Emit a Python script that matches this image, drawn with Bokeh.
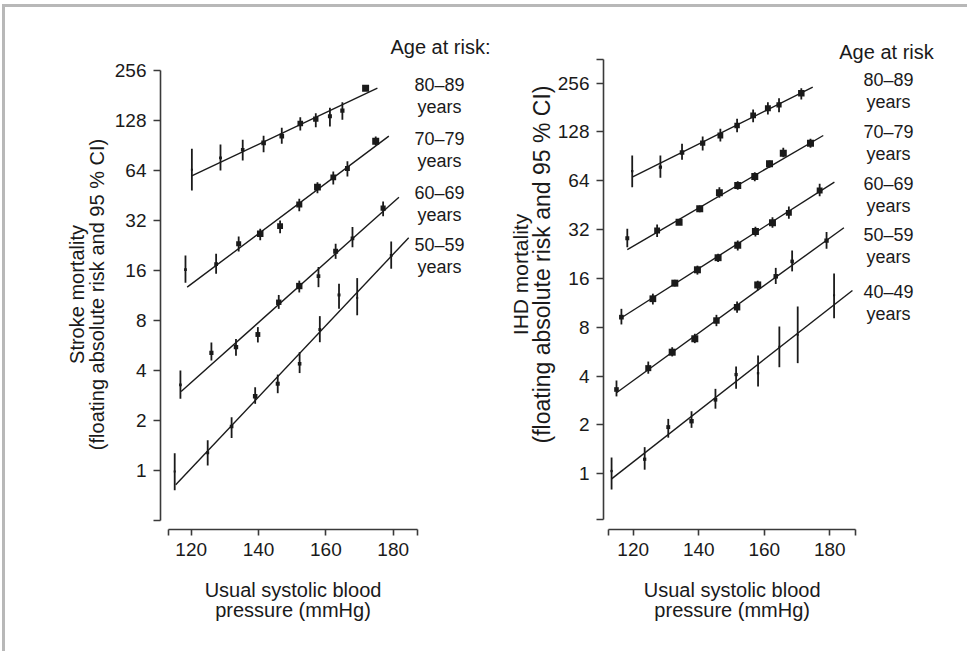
import numpy as np
from bokeh.plotting import figure
from bokeh.layouts import row
from bokeh.models import Range1d, FixedTicker, CustomJSTickFormatter, Label
from bokeh.embed import file_html
from bokeh.resources import INLINE

# ---------------- data ----------------
# Left panel: stroke mortality by age group (usual SBP, risk, 95% CI)
stroke_groups = ["80\u201389", "70\u201379", "60\u201369", "50\u201359"]
stroke_sbp = [
    [120.2, 128.7, 135.3, 141.5, 146.9, 152.4, 157.0, 161.2, 164.9, 171.8],
    [118.3, 127.4, 134.1, 140.5, 146.4, 152.1, 157.5, 162.2, 166.4, 174.8],
    [116.8, 126.0, 133.3, 139.8, 146.0, 152.1, 157.8, 162.9, 167.9, 177.0],
    [115.1, 124.9, 132.0, 139.0, 145.7, 152.2, 158.2, 163.9, 169.3, 179.4],
]
stroke_risk = [
    [64.6, 76.3, 85.3, 93.9, 103.0, 122.8, 130.4, 135.9, 147.0, 200.4],
    [16.2, 17.5, 23.2, 26.6, 29.6, 39.9, 50.8, 58.1, 65.8, 96.1],
    [3.28, 5.11, 5.53, 6.59, 10.3, 12.9, 14.8, 20.9, 25.0, 38.0],
    [0.986, 1.28, 1.84, 2.80, 3.33, 4.39, 7.06, 11.4, 10.95, 19.7],
]
stroke_lo = [
    [48.5, 64.0, 73.5, 82.5, 92.6, 111.4, 116.7, 117.8, 129.2, 195.0],
    [13.5, 15.3, 20.8, 24.3, 26.8, 36.4, 46.7, 52.7, 58.9, 90.5],
    [2.70, 4.60, 4.90, 5.90, 9.40, 11.8, 12.7, 18.8, 22.1, 34.0],
    [0.76, 1.07, 1.57, 2.52, 2.92, 3.86, 5.92, 9.40, 8.60, 16.4],
]
stroke_hi = [
    [86.5, 91.8, 98.0, 103.5, 115.6, 134.0, 141.7, 152.6, 165.0, 206.0],
    [19.7, 20.2, 25.6, 28.5, 32.0, 43.2, 54.4, 63.1, 72.8, 102.5],
    [4.00, 5.90, 6.20, 7.30, 11.4, 13.9, 16.8, 23.2, 29.2, 41.6],
    [1.27, 1.52, 2.09, 3.17, 3.78, 5.16, 8.50, 13.3, 14.4, 23.9],
]
stroke_fit_sbp = [[120.0, 175.3], [118.8, 178.7], [117.0, 181.7], [115.4, 184.6]]
stroke_fit_risk = [[59.2, 200.4], [12.7, 103.0], [2.99, 44.2], [0.82, 25.2]]

# Right panel: IHD mortality by age group
ihd_groups = ["80\u201389", "70\u201379", "60\u201369", "50\u201359", "40\u201349"]
ihd_sbp = [
    [119.7, 128.3, 134.9, 141.2, 146.6, 151.7, 156.6, 161.1, 164.5, 171.3],
    [118.2, 127.3, 134.0, 140.3, 146.3, 151.9, 157.1, 161.6, 165.8, 174.1],
    [116.4, 126.0, 132.7, 139.6, 145.9, 151.9, 157.3, 162.5, 167.5, 176.9],
    [114.9, 124.6, 131.9, 138.8, 145.4, 151.7, 158.0, 163.5, 168.5, 179.0],
    [113.4, 123.5, 130.7, 137.8, 145.1, 151.4, 158.1, 164.6, 170.2, 181.3],
]
ihd_risk = [
    [73.4, 77.7, 95.7, 109.2, 121.8, 140.4, 161.8, 179.4, 188.3, 221.9],
    [28.3, 31.6, 35.6, 43.0, 54.0, 59.9, 68.0, 81.5, 94.7, 109.2],
    [9.24, 12.0, 14.97, 18.1, 21.5, 25.6, 31.2, 35.3, 40.6, 55.8],
    [3.31, 4.48, 5.62, 6.80, 8.81, 10.64, 14.6, 16.5, 20.4, 27.4],
    [1.04, 1.23, 1.94, 2.11, 2.86, 4.09, 4.17, 6.07, 7.19, 12.6],
]
ihd_lo = [
    [58.5, 66.8, 86.2, 98.4, 111.9, 127.6, 147.0, 164.0, 169.5, 203.0],
    [24.9, 28.8, 34.4, 41.0, 50.3, 56.3, 63.6, 77.0, 89.5, 102.3],
    [8.33, 11.06, 14.3, 16.9, 20.2, 23.8, 29.0, 32.9, 37.3, 51.4],
    [3.00, 4.14, 5.29, 6.39, 8.13, 9.83, 13.5, 14.8, 17.7, 24.4],
    [0.80, 1.06, 1.67, 1.92, 2.52, 3.34, 3.45, 4.54, 4.81, 9.10],
]
ihd_hi = [
    [91.7, 91.7, 108.2, 120.0, 133.9, 154.3, 176.2, 195.4, 206.8, 238.3],
    [32.4, 34.4, 36.6, 45.1, 58.5, 63.6, 72.4, 85.4, 102.2, 116.2],
    [10.4, 12.9, 15.7, 19.2, 22.7, 27.4, 33.4, 38.2, 44.4, 61.3],
    [3.76, 4.92, 6.03, 7.30, 9.55, 11.54, 15.5, 18.6, 23.8, 30.9],
    [1.26, 1.46, 2.18, 2.43, 3.34, 4.59, 5.36, 8.09, 10.75, 17.2],
]
ihd_fit_sbp = [[119.7, 174.8], [118.2, 178.0], [116.4, 181.4], [114.9, 184.3], [113.4, 186.9]]
ihd_fit_risk = [[67.4, 241.7], [24.1, 121.8], [9.16, 62.8], [3.16, 32.9], [0.93, 13.5]]

# axis ticks / limits
x_tick_labels = [120, 140, 160, 180]
y_tick_labels = [1, 2, 4, 8, 16, 32, 64, 128, 256]
stroke_x_limits = [113.35, 187.12]
stroke_y_limits = [0.5, 256]
ihd_x_limits = [112.55, 187.84]
ihd_y_limits = [0.52, 358]

# ---------------- styling ----------------
FONT = "Liberation Sans"
INK = "#1a1a1a"
AXIS = "#3a3a3a"
TOP = 7          # page y of the figures' top edge
H = 644


def make_panel(left_px, width, geo, axis_px, x_limits, y_limits,
               groups, sbp, risk, lo, hi, fit_x, fit_y, ylabs,
               age_title, age_pos, title_pos):
    x120, ppm, y1px, ppd = geo
    fx = lambda px: 120 + (px - x120) / ppm
    fy = lambda py: 2.0 ** ((y1px - py) / ppd)
    p = figure(width=width, height=H, y_axis_type="log",
               x_range=Range1d(fx(left_px), fx(left_px + width)),
               y_range=Range1d(fy(TOP + H), fy(TOP)),
               output_backend="svg", toolbar_location=None,
               min_border=0, min_border_left=0, min_border_right=0,
               min_border_top=0, min_border_bottom=0)
    p.grid.visible = False
    p.outline_line_color = None
    p.background_fill_color = "white"
    p.border_fill_color = "white"

    # axes (R style: detached from each other, ticks at the ends)
    xt = [x_limits[0]] + x_tick_labels + [x_limits[1]]
    yt = [y_limits[0]] + y_tick_labels + ([y_limits[1]] if y_limits[1] > 256 else [])
    p.xaxis.ticker = FixedTicker(ticks=xt)
    p.yaxis.ticker = FixedTicker(ticks=yt)
    p.xaxis.formatter = CustomJSTickFormatter(args=dict(show=x_tick_labels),
        code="return show.some(v => Math.abs(v - tick) < 1e-6) ? String(tick) : '';")
    p.yaxis.formatter = CustomJSTickFormatter(args=dict(show=y_tick_labels),
        code="return show.some(v => Math.abs(v - tick) < 1e-6) ? String(tick) : '';")
    p.xaxis.bounds = tuple(x_limits)
    p.yaxis.bounds = tuple(y_limits)
    p.xaxis.fixed_location = fy(axis_px[1])
    p.yaxis.fixed_location = fx(axis_px[0])
    for ax in (p.xaxis, p.yaxis):
        ax.axis_line_color = AXIS
        ax.axis_line_width = 1.6
        ax.major_tick_line_color = AXIS
        ax.major_tick_line_width = 1.6
        ax.major_tick_in = 0
        ax.minor_tick_line_color = None
        ax.major_label_text_font = FONT
        ax.major_label_text_font_size = "19px"
        ax.major_label_text_color = INK
    p.xaxis.major_tick_out = 6
    p.yaxis.major_tick_out = 7
    p.xaxis.major_label_standoff = 7
    p.yaxis.major_label_standoff = 7

    # data
    for i in range(len(groups)):
        x = np.array(sbp[i]); y = np.array(risk[i])
        l = np.array(lo[i]); h = np.array(hi[i])
        p.segment(x0=x, y0=l, x1=x, y1=h, line_color=INK, line_width=1.8)
        sizes = np.clip(1.5 / np.log2(h / l), 2.0, 7.0)
        p.scatter(x=x, y=y, marker="square", size=sizes, fill_color=INK, line_color=None)
        p.line(x=fit_x[i], y=fit_y[i], line_color=INK, line_width=1.4)

    def lab(px, py, text, size="20px", angle=0.0):
        p.add_layout(Label(x=fx(px), y=fy(py), text=text, text_font=FONT,
                           text_font_size=size, text_color=INK, text_align="center",
                           text_baseline="alphabetic", angle=angle))

    # age labels
    lab(title_pos[0], title_pos[1], age_title)
    ax_c, bases = age_pos
    for g, b in zip(groups, bases):
        lab(ax_c, b, g, size="18px")
        lab(ax_c, b + 22, "years", size="18px")

    # axis titles
    xc = x120 + ((x_limits[0] + x_limits[1]) / 2 - 120) * ppm
    lab(xc, 589.5, "Usual systolic blood")
    lab(xc, 609.5, "pressure (mmHg)")
    for text, bx, cy, size in ylabs:
        lab(bx, cy, text, size=size, angle=np.pi / 2)
    return p


p1 = make_panel(
    left_px=5, width=495,
    geo=(190.7, 3.367, 470.0, 50.0), axis_px=(160, 529),
    x_limits=stroke_x_limits, y_limits=stroke_y_limits,
    groups=stroke_groups, sbp=stroke_sbp, risk=stroke_risk, lo=stroke_lo, hi=stroke_hi,
    fit_x=stroke_fit_sbp, fit_y=stroke_fit_risk,
    ylabs=[("Stroke mortality", 76, 294, "20px"),
           ("(floating absolute risk and 95 % CI)", 96, 294, "20px")],
    age_title="Age at risk:", age_pos=(439, [84.5, 138.5, 192.7, 244.5]),
    title_pos=(440, 46))

p2 = make_panel(
    left_px=500, width=467,
    geo=(632.7, 3.277, 473.3, 48.83), axis_px=(603, 529),
    x_limits=ihd_x_limits, y_limits=ihd_y_limits,
    groups=ihd_groups, sbp=ihd_sbp, risk=ihd_risk, lo=ihd_lo, hi=ihd_hi,
    fit_x=ihd_fit_sbp, fit_y=ihd_fit_risk,
    ylabs=[("IHD mortality", 520, 274, "21px"),
           ("(floating absolute risk and 95 % CI)", 541, 264, "23px")],
    age_title="Age at risk", age_pos=(888, [79.3, 131.0, 183.3, 234.3, 291.0]),
    title_pos=(886, 51.7))

layout = row(p1, p2, styles={"margin-left": "2px", "margin-top": "4px",
                             "border-top": "3px solid #b8b8b8",
                             "border-left": "3px solid #b8b8b8",
                             "border-right": "0", "border-bottom": "0"})

open("out.html", "w").write(file_html(layout, INLINE))
